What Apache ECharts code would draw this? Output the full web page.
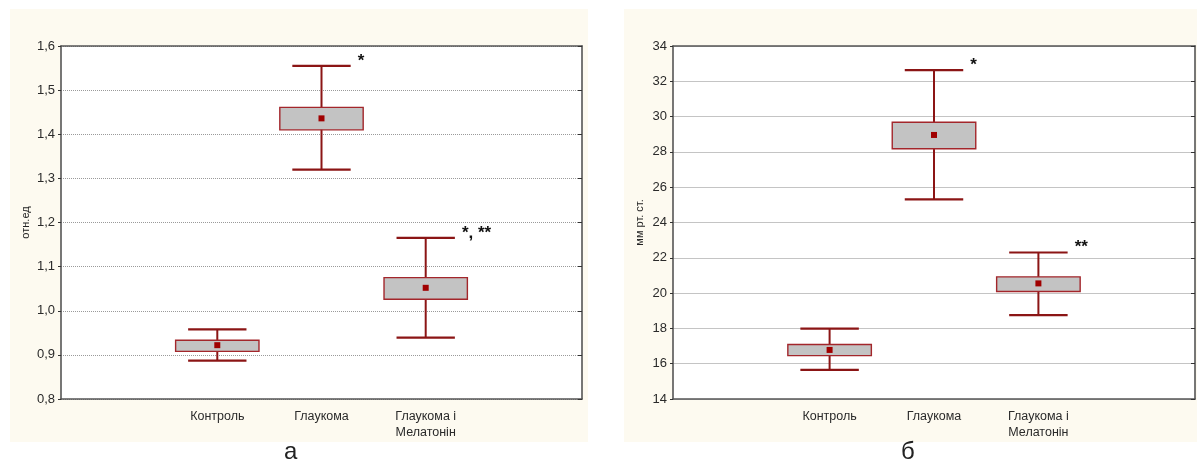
<!DOCTYPE html>
<html>
<head>
<meta charset="utf-8">
<script src="https://cdn.jsdelivr.net/npm/echarts@6/dist/echarts.min.js"></script>
<style>
html,body{margin:0;padding:0;background:#fff;}
#chart{width:1197px;height:464px;}
</style>
</head>
<body>
<div id="chart"></div>
<script>
// ---- Data ----
const categories = ['', 'Контроль', 'Глаукома', 'Глаукома і\nМелатонін', ''];
const groupIndex = [1, 2, 3];

// Panel а (отн.ед)
const meanA      = [0.922, 1.436, 1.052];
const boxLowA    = [0.908, 1.410, 1.026];
const boxHighA   = [0.933, 1.461, 1.075];
const whiskLowA  = [0.887, 1.320, 0.939];
const whiskHighA = [0.958, 1.555, 1.165];
const marksA     = ['', '*', '*, **'];
const ticksA     = [0.8, 0.9, 1.0, 1.1, 1.2, 1.3, 1.4, 1.5, 1.6];

// Panel б (мм рт. ст.)
const meanB      = [16.78, 28.96, 20.55];
const boxLowB    = [16.46, 28.18, 20.09];
const boxHighB   = [17.09, 29.68, 20.92];
const whiskLowB  = [15.65, 25.31, 18.75];
const whiskHighB = [17.99, 32.63, 22.30];
const marksB     = ['', '*', '**'];
const ticksB     = [14, 16, 18, 20, 22, 24, 26, 28, 30, 32, 34];

const panelLabels = ['а', 'б'];
const axisNames = ['отн.ед', 'мм рт. ст.'];

// ---- Build ----
function rows(mean, bl, bh, wl, wh, marks) {
  return groupIndex.map((g, i) => [g, wl[i], bl[i], mean[i], bh[i], wh[i], marks[i]]);
}

const WHISK = '#8b1515';
const BOXB = '#a3262b';
function renderItem(params, api) {
  const x = api.value(0);
  const band = api.size([1, 0])[0];
  const pLo = api.coord([x, api.value(1)]);
  const pQ1 = api.coord([x, api.value(2)]);
  const pM  = api.coord([x, api.value(3)]);
  const pQ3 = api.coord([x, api.value(4)]);
  const pHi = api.coord([x, api.value(5)]);
  const cx = pM[0];
  const capHalf = band * 0.28;
  const boxHalf = band * 0.40;
  const mark = api.value(6);
  const children = [
    {type: 'line', shape: {x1: cx, y1: pLo[1], x2: cx, y2: pHi[1]}, style: {stroke: WHISK, lineWidth: 2}},
    {type: 'line', shape: {x1: cx - capHalf, y1: pLo[1], x2: cx + capHalf, y2: pLo[1]}, style: {stroke: WHISK, lineWidth: 2.2}},
    {type: 'line', shape: {x1: cx - capHalf, y1: pHi[1], x2: cx + capHalf, y2: pHi[1]}, style: {stroke: WHISK, lineWidth: 2.2}},
    {type: 'rect', shape: {x: cx - boxHalf, y: pQ3[1], width: boxHalf * 2, height: pQ1[1] - pQ3[1]},
      style: {fill: '#c3c3c3', stroke: BOXB, lineWidth: 1.4}},
    {type: 'rect', shape: {x: cx - 3, y: pM[1] - 3, width: 6, height: 6}, style: {fill: '#a00000'}}
  ];
  if (mark) {
    children.push({type: 'text', style: {text: mark, x: cx + capHalf + 7, y: pHi[1] - 5,
      fill: '#111', font: 'bold 17px "Liberation Sans", Arial, sans-serif',
      align: 'left', verticalAlign: 'middle', textAlign: 'left', textVerticalAlign: 'middle'}});
  }
  return {type: 'group', children};
}

const FONT = '"Liberation Sans", Arial, sans-serif';
const gridDefs = [
  {left: 61, top: 46, width: 521, height: 353},
  {left: 673, top: 46, width: 522, height: 353}
];
const nameGaps = [30, 28];
const yDefs = [
  {min: 0.8, max: 1.6, interval: 0.1, fmt: v => v.toFixed(1).replace('.', ','), split: {color: '#9a9a9a', type: 'dotted', width: 1}},
  {min: 14, max: 34, interval: 2, fmt: v => String(Math.round(v)), split: {color: '#c4c4c4', type: 'solid', width: 1}}
];

const xAxis = [], yAxis = [], grid = [], series = [];
gridDefs.forEach((g, i) => {
  grid.push(Object.assign({show: true, backgroundColor: '#ffffff', borderWidth: 0, containLabel: false}, g));
  xAxis.push({type: 'category', gridIndex: i, data: categories, position: 'bottom',
    axisLine: {lineStyle: {color: '#555', width: 1.6}},
    axisTick: {alignWithLabel: true, inside: true, length: 4, lineStyle: {color: '#333'}},
    axisLabel: {color: '#2a2a2a', fontSize: 12.5, fontFamily: FONT, margin: 10, interval: 0, lineHeight: 16},
    splitLine: {show: false}});
  xAxis.push({type: 'category', gridIndex: i, data: categories, position: 'top',
    axisLine: {lineStyle: {color: '#555', width: 1.6}},
    axisTick: {alignWithLabel: true, inside: true, length: 4, lineStyle: {color: '#333'}},
    axisLabel: {show: false}, splitLine: {show: false}});
  const y = yDefs[i];
  yAxis.push({type: 'value', gridIndex: i, min: y.min, max: y.max, interval: y.interval, position: 'left',
    name: axisNames[i], nameLocation: 'middle', nameGap: nameGaps[i], nameRotate: 90,
    nameTextStyle: {color: '#222', fontSize: 11, fontFamily: FONT},
    axisLine: {show: true, lineStyle: {color: '#555', width: 1.6}},
    axisTick: {show: true, length: 3, lineStyle: {color: '#333'}},
    axisLabel: {color: '#2a2a2a', fontSize: 13, fontFamily: FONT, margin: 6, formatter: y.fmt},
    splitLine: {show: true, lineStyle: y.split}});
  yAxis.push({type: 'value', gridIndex: i, min: y.min, max: y.max, interval: y.interval, position: 'right',
    axisLine: {show: true, lineStyle: {color: '#555', width: 1.6}},
    axisTick: {show: true, inside: true, length: 4, lineStyle: {color: '#333'}},
    axisLabel: {show: false}, splitLine: {show: false}});
});

series.push({type: 'custom', xAxisIndex: 0, yAxisIndex: 0, renderItem, encode: {x: 0, y: [1, 2, 3, 4, 5]},
  data: rows(meanA, boxLowA, boxHighA, whiskLowA, whiskHighA, marksA), z: 5});
series.push({type: 'custom', xAxisIndex: 2, yAxisIndex: 2, renderItem, encode: {x: 0, y: [1, 2, 3, 4, 5]},
  data: rows(meanB, boxLowB, boxHighB, whiskLowB, whiskHighB, marksB), z: 5});

const chart = echarts.init(document.getElementById('chart'), null, {renderer: 'canvas'});
chart.setOption({
  animation: false,
  backgroundColor: '#ffffff',
  graphic: [
    {type: 'rect', z: -10, shape: {x: 10, y: 9, width: 578, height: 433}, style: {fill: '#fdfaf0'}, silent: true},
    {type: 'rect', z: -10, shape: {x: 624, y: 9, width: 573, height: 433}, style: {fill: '#fdfaf0'}, silent: true},
    {type: 'text', left: 284, top: 440, style: {text: panelLabels[0], fill: '#222', font: '24px "Liberation Sans", Arial, sans-serif'}},
    {type: 'text', left: 901, top: 440, style: {text: panelLabels[1], fill: '#222', font: '24px "Liberation Sans", Arial, sans-serif'}}
  ],
  grid, xAxis, yAxis, series
});
</script>
</body>
</html>
